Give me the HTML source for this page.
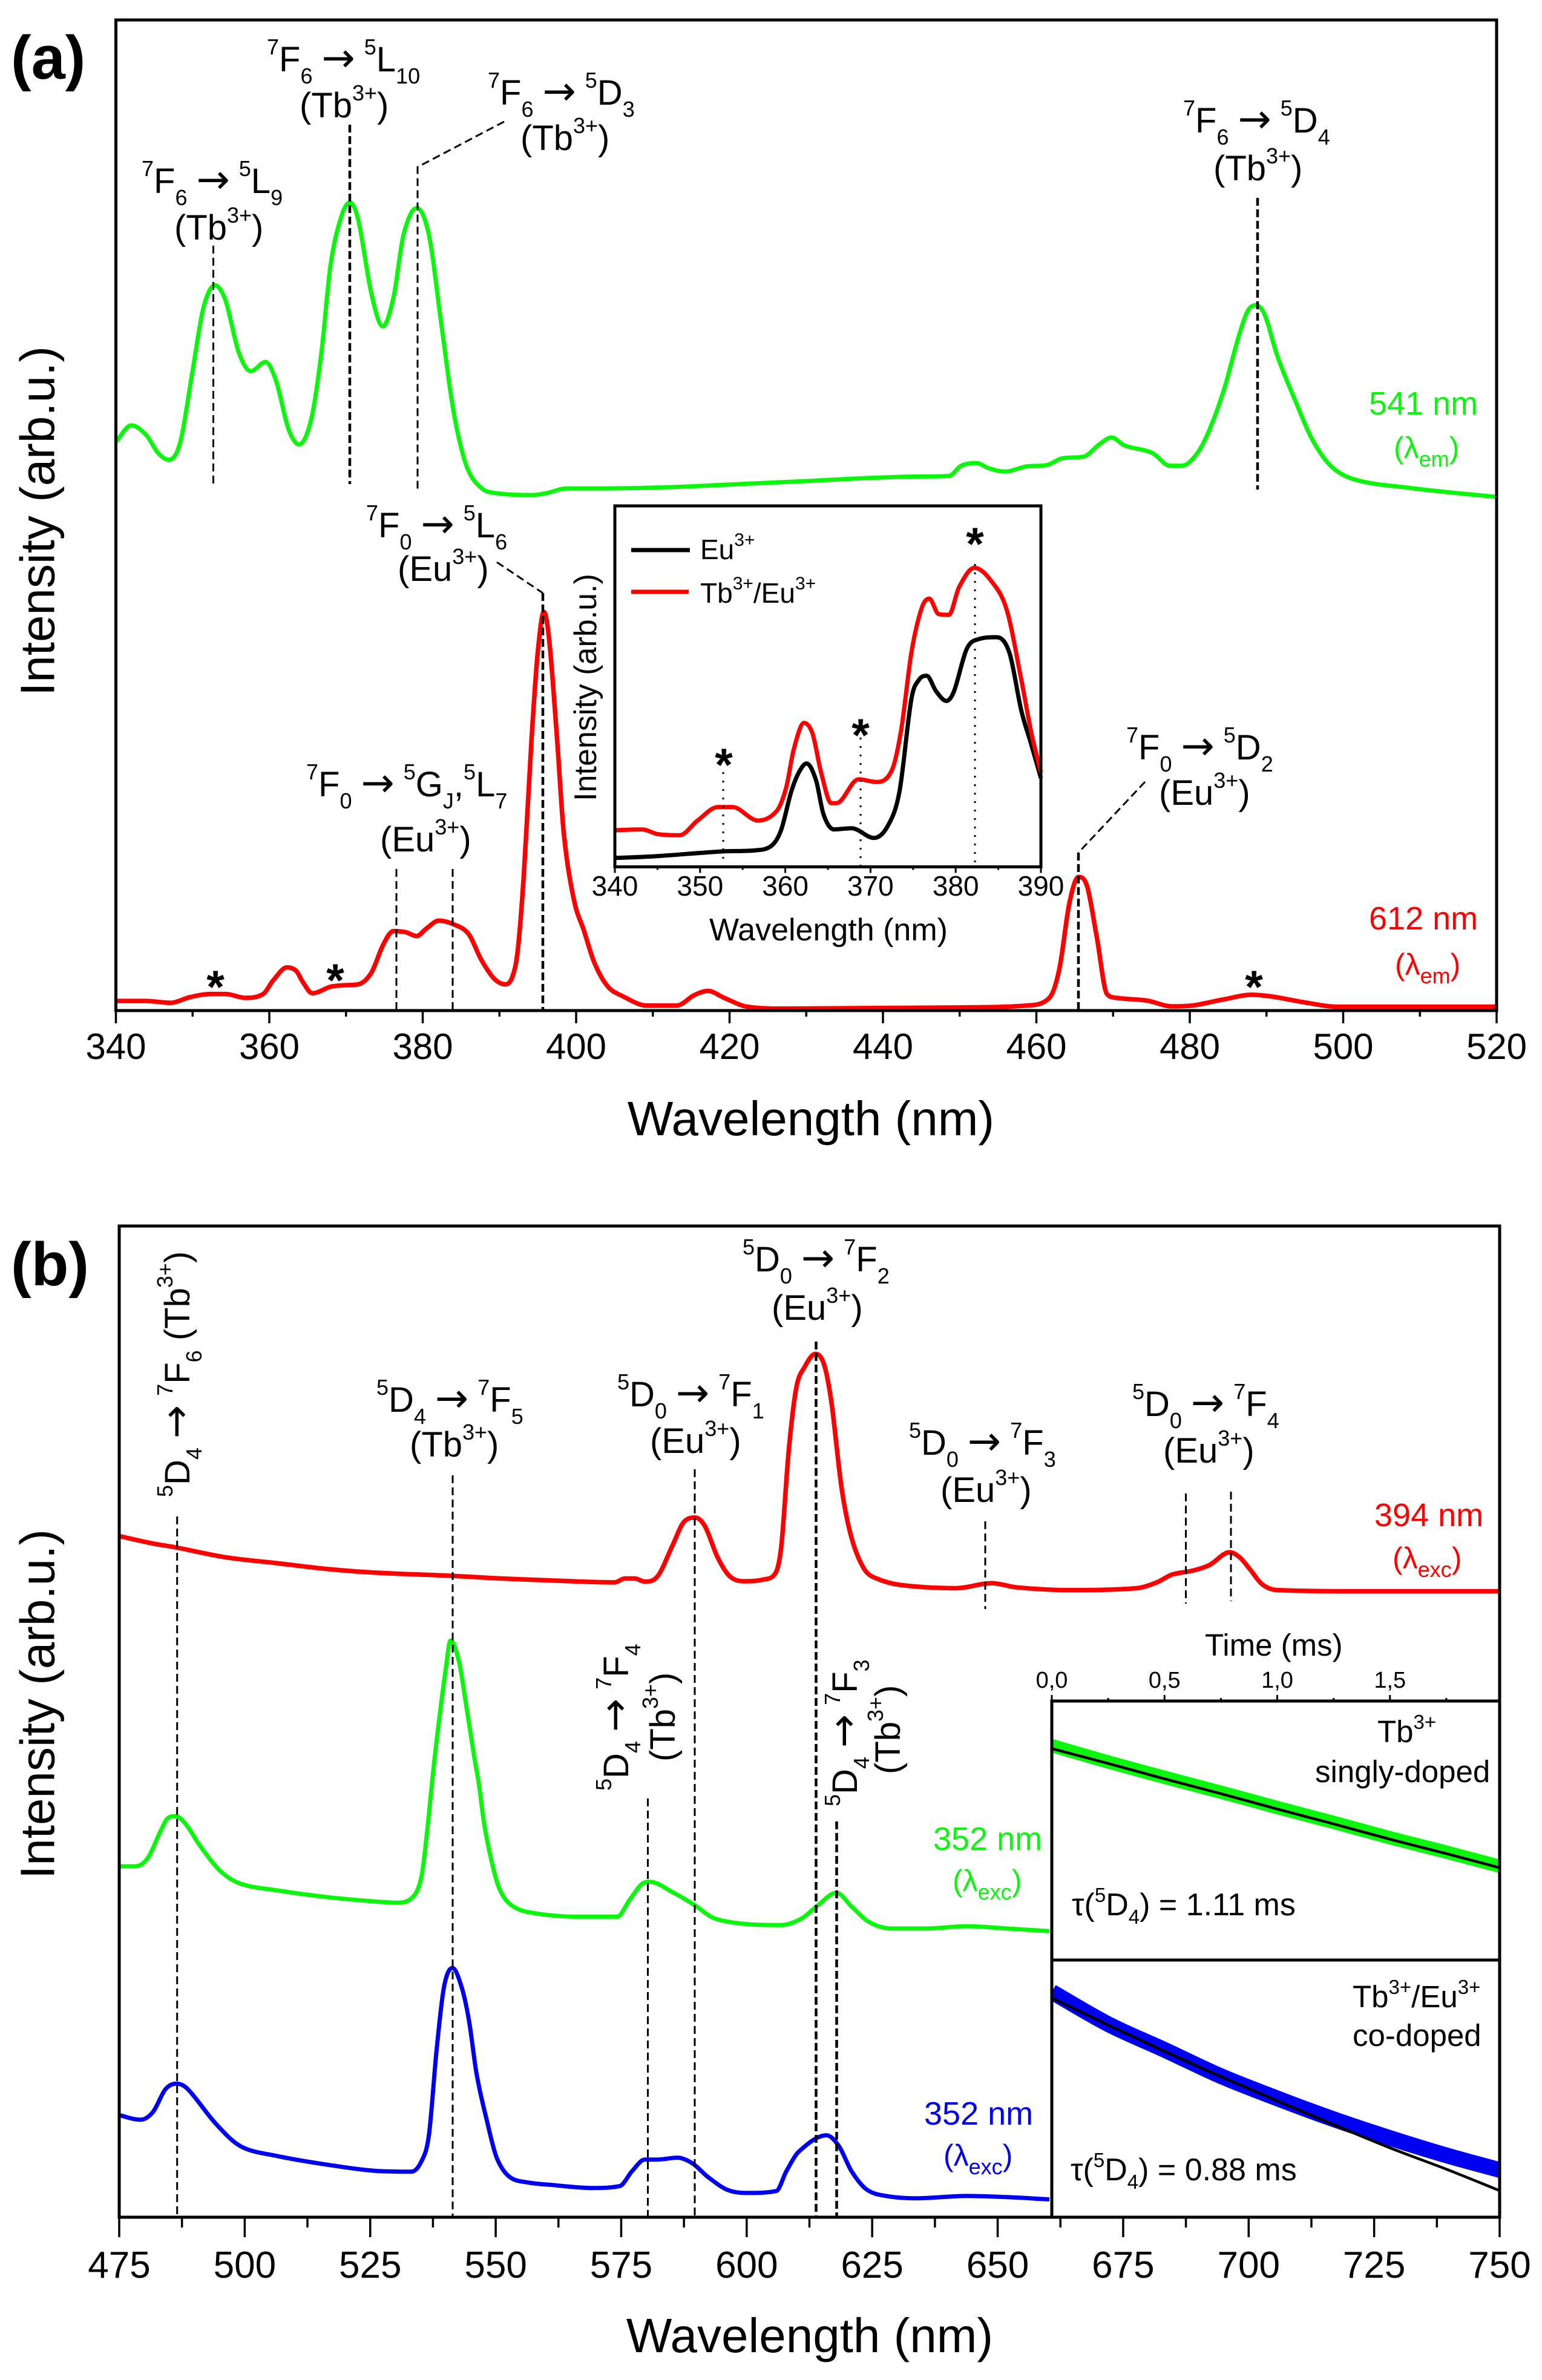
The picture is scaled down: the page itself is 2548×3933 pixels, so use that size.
<!DOCTYPE html>
<html lang="en">
<head>
<meta charset="utf-8">
<title>Excitation and emission spectra</title>
<style>
html,body{margin:0;padding:0;background:#fff;}
svg{display:block;font-family:"Liberation Sans",Arial,sans-serif;}
text{white-space:pre;fill:#000;}
.ann{font-size:58px;}
.s{font-size:36px;}
.a{font-family:"DejaVu Sans","Liberation Sans",sans-serif;font-size:66px;word-spacing:-6px;}
.nm{font-size:54px;}
.lam{font-size:50px;}
.lam .b{font-size:36px;}
.inlab{font-size:51px;}
.tau{font-size:52px;}
.inlab .s,.tau .s{font-size:33px;}
.leg{font-size:46px;}
.leg .s{font-size:30px;}
.star{font-size:76px;font-weight:bold;text-anchor:middle;}
.dash{stroke:#000;stroke-width:3;stroke-dasharray:13 7;fill:none;}
.dash2{stroke:#000;stroke-width:4.5;stroke-dasharray:13 6;fill:none;}
.dot{stroke:#000;stroke-width:3;stroke-dasharray:3 11;fill:none;}
.frame{fill:none;stroke:#000;stroke-width:5;}
.g{fill:#0cf50c;}
.r{fill:#ff0000;}
.bl{fill:#0000f0;}
</style>
</head>
<body>
<svg id="figure" xmlns="http://www.w3.org/2000/svg" width="2548" height="3933" viewBox="0 0 2548 3933">
<rect width="2548" height="3933" fill="#fff"/>
<defs>
<clipPath id="clipDecayTop"><rect x="1738" y="2811" width="740" height="428"/></clipPath>
<clipPath id="clipDecayBottom"><rect x="1738" y="3239" width="740" height="425"/></clipPath>
</defs>

<!-- PANEL A -->
<g id="panelASeries"></g>
<rect class="frame" x="191.5" y="33" width="2281.5" height="1637"/>
<g id="panelATicks"></g>
<text x="18" y="130" font-size="101" font-weight="bold">(a)</text>
<text font-size="80" text-anchor="middle" transform="translate(89.5,861) rotate(-90)">Intensity (arb.u.)</text>
<text font-size="80" text-anchor="middle" x="1340" y="1876">Wavelength (nm)</text>

<g>
<line class="dash" x1="352.5" y1="406" x2="352.5" y2="800"/>
<line class="dash2" x1="578" y1="206" x2="578" y2="800"/>
<polyline class="dash" points="833,201 690,276 690,809"/>
<line class="dash2" x1="2078" y1="327" x2="2078" y2="809"/>
<polyline class="dash" points="821,929 897,980"/>
<line class="dash2" x1="897" y1="980" x2="897" y2="1668"/>
<line class="dash" x1="655" y1="1436" x2="655" y2="1668"/>
<line class="dash" x1="748" y1="1436" x2="748" y2="1668"/>
<polyline class="dash" points="1892,1292 1782,1409"/>
<line class="dash2" x1="1782" y1="1409" x2="1782" y2="1668"/>
</g>

<text class="ann" x="234" y="319"><tspan class="s" dy="-28">7</tspan><tspan dy="28">F</tspan><tspan class="s" dy="20">6</tspan><tspan class="a" dy="-20"> → </tspan><tspan class="s" dy="-28">5</tspan><tspan dy="28">L</tspan><tspan class="s" dy="20">9</tspan></text>
<text class="ann" x="288" y="396">(Tb<tspan class="s" dy="-28">3+</tspan><tspan dy="28">)</tspan></text>
<text class="ann" x="441" y="118"><tspan class="s" dy="-28">7</tspan><tspan dy="28">F</tspan><tspan class="s" dy="20">6</tspan><tspan class="a" dy="-20"> → </tspan><tspan class="s" dy="-28">5</tspan><tspan dy="28">L</tspan><tspan class="s" dy="20">10</tspan></text>
<text class="ann" x="495" y="194">(Tb<tspan class="s" dy="-28">3+</tspan><tspan dy="28">)</tspan></text>
<text class="ann" x="806" y="173"><tspan class="s" dy="-28">7</tspan><tspan dy="28">F</tspan><tspan class="s" dy="20">6</tspan><tspan class="a" dy="-20"> → </tspan><tspan class="s" dy="-28">5</tspan><tspan dy="28">D</tspan><tspan class="s" dy="20">3</tspan></text>
<text class="ann" x="860" y="248">(Tb<tspan class="s" dy="-28">3+</tspan><tspan dy="28">)</tspan></text>
<text class="ann" x="1955" y="219"><tspan class="s" dy="-28">7</tspan><tspan dy="28">F</tspan><tspan class="s" dy="20">6</tspan><tspan class="a" dy="-20"> → </tspan><tspan class="s" dy="-28">5</tspan><tspan dy="28">D</tspan><tspan class="s" dy="20">4</tspan></text>
<text class="ann" x="2005" y="298">(Tb<tspan class="s" dy="-28">3+</tspan><tspan dy="28">)</tspan></text>
<text class="ann" x="605" y="888"><tspan class="s" dy="-28">7</tspan><tspan dy="28">F</tspan><tspan class="s" dy="20">0</tspan><tspan class="a" dy="-20"> → </tspan><tspan class="s" dy="-28">5</tspan><tspan dy="28">L</tspan><tspan class="s" dy="20">6</tspan></text>
<text class="ann" x="657" y="960">(Eu<tspan class="s" dy="-28">3+</tspan><tspan dy="28">)</tspan></text>
<text class="ann" x="506" y="1316"><tspan class="s" dy="-28">7</tspan><tspan dy="28">F</tspan><tspan class="s" dy="20">0</tspan><tspan class="a" dy="-20"> → </tspan><tspan class="s" dy="-28">5</tspan><tspan dy="28">G</tspan><tspan class="s" dy="20">J</tspan><tspan dy="-20">,</tspan><tspan class="s" dy="-28">5</tspan><tspan dy="28">L</tspan><tspan class="s" dy="20">7</tspan></text>
<text class="ann" x="628" y="1407">(Eu<tspan class="s" dy="-28">3+</tspan><tspan dy="28">)</tspan></text>
<text class="ann" x="1861" y="1255"><tspan class="s" dy="-28">7</tspan><tspan dy="28">F</tspan><tspan class="s" dy="20">0</tspan><tspan class="a" dy="-20"> → </tspan><tspan class="s" dy="-28">5</tspan><tspan dy="28">D</tspan><tspan class="s" dy="20">2</tspan></text>
<text class="ann" x="1915" y="1330">(Eu<tspan class="s" dy="-28">3+</tspan><tspan dy="28">)</tspan></text>

<text class="star" x="356" y="1657">*</text>
<text class="star" x="554" y="1646">*</text>
<text class="star" x="2072" y="1657">*</text>

<text class="nm g" x="2262" y="685">541 nm</text>
<text class="lam g" x="2303" y="757">(λ<tspan class="b" dy="14">em</tspan><tspan dy="-14">)</tspan></text>
<text class="nm r" x="2262" y="1536">612 nm</text>
<text class="lam r" x="2305" y="1611">(λ<tspan class="b" dy="14">em</tspan><tspan dy="-14">)</tspan></text>

<!-- INSET A -->
<rect x="1016" y="836" width="704" height="596.5" fill="#fff"/>
<g id="insetASeries"></g>
<rect x="1016" y="836" width="704" height="596.5" fill="none" stroke="#000" stroke-width="5"/>
<g id="insetATicks"></g>
<line class="dot" x1="1195" y1="1276" x2="1195" y2="1431"/>
<line class="dot" x1="1422" y1="1219" x2="1422" y2="1431"/>
<line class="dot" x1="1611" y1="932" x2="1611" y2="1431"/>
<text class="star" x="1196" y="1290">*</text>
<text class="star" x="1422" y="1241">*</text>
<text class="star" x="1611" y="925">*</text>
<text font-size="52" text-anchor="middle" x="1369" y="1554">Wavelength (nm)</text>
<text font-size="52" text-anchor="middle" transform="translate(985,1136) rotate(-90)">Intensity (arb.u.)</text>
<line x1="1043" y1="909" x2="1140" y2="909" stroke="#000" stroke-width="7"/>
<text class="leg" x="1157" y="924">Eu<tspan class="s" dy="-22">3+</tspan></text>
<line x1="1043" y1="978" x2="1138" y2="978" stroke="#f00" stroke-width="7"/>
<text class="leg" x="1157" y="996">Tb<tspan class="s" dy="-22">3+</tspan><tspan dy="22">/Eu</tspan><tspan class="s" dy="-22">3+</tspan></text>

<!-- PANEL B -->
<g id="panelBSeries"></g>
<rect x="1738" y="2811" width="740" height="853" fill="#fff"/>
<g id="decaySeries"></g>
<rect class="frame" x="197" y="2026" width="2281" height="1638"/>
<g id="panelBTicks"></g>
<rect x="1738" y="2811" width="740" height="428" fill="none" stroke="#000" stroke-width="5"/>
<rect x="1738" y="3239" width="740" height="425" fill="none" stroke="#000" stroke-width="5"/>
<g id="decayTicks"></g>
<text x="18" y="2124" font-size="101" font-weight="bold">(b)</text>
<text font-size="80" text-anchor="middle" transform="translate(89.5,2816) rotate(-90)">Intensity (arb.u.)</text>
<text font-size="80" text-anchor="middle" x="1338" y="3887">Wavelength (nm)</text>
<text font-size="51" x="1991" y="2736">Time (ms)</text>

<g>
<line class="dash" x1="292.7" y1="2506" x2="292.7" y2="3662"/>
<line class="dash" x1="748" y1="2438" x2="748" y2="3662"/>
<line class="dash" x1="1148" y1="2428" x2="1148" y2="3662"/>
<line class="dash" x1="1070.5" y1="2972" x2="1070.5" y2="3662"/>
<line class="dash2" x1="1348.5" y1="2217" x2="1348.5" y2="3662"/>
<line class="dash2" x1="1382.5" y1="3010" x2="1382.5" y2="3662"/>
<line class="dash" x1="1628" y1="2514" x2="1628" y2="2659"/>
<line class="dash" x1="1959.5" y1="2468" x2="1959.5" y2="2650"/>
<line class="dash" x1="2034" y1="2465" x2="2034" y2="2646"/>
</g>

<text class="ann" x="1227" y="2101"><tspan class="s" dy="-28">5</tspan><tspan dy="28">D</tspan><tspan class="s" dy="20">0</tspan><tspan class="a" dy="-20"> → </tspan><tspan class="s" dy="-28">7</tspan><tspan dy="28">F</tspan><tspan class="s" dy="20">2</tspan></text>
<text class="ann" x="1275" y="2181">(Eu<tspan class="s" dy="-28">3+</tspan><tspan dy="28">)</tspan></text>
<text class="ann" x="622" y="2333"><tspan class="s" dy="-28">5</tspan><tspan dy="28">D</tspan><tspan class="s" dy="20">4</tspan><tspan class="a" dy="-20"> → </tspan><tspan class="s" dy="-28">7</tspan><tspan dy="28">F</tspan><tspan class="s" dy="20">5</tspan></text>
<text class="ann" x="677" y="2407">(Tb<tspan class="s" dy="-28">3+</tspan><tspan dy="28">)</tspan></text>
<text class="ann" x="1020" y="2324"><tspan class="s" dy="-28">5</tspan><tspan dy="28">D</tspan><tspan class="s" dy="20">0</tspan><tspan class="a" dy="-20"> → </tspan><tspan class="s" dy="-28">7</tspan><tspan dy="28">F</tspan><tspan class="s" dy="20">1</tspan></text>
<text class="ann" x="1074" y="2401">(Eu<tspan class="s" dy="-28">3+</tspan><tspan dy="28">)</tspan></text>
<text class="ann" x="1502" y="2404"><tspan class="s" dy="-28">5</tspan><tspan dy="28">D</tspan><tspan class="s" dy="20">0</tspan><tspan class="a" dy="-20"> → </tspan><tspan class="s" dy="-28">7</tspan><tspan dy="28">F</tspan><tspan class="s" dy="20">3</tspan></text>
<text class="ann" x="1554" y="2482">(Eu<tspan class="s" dy="-28">3+</tspan><tspan dy="28">)</tspan></text>
<text class="ann" x="1871" y="2340"><tspan class="s" dy="-28">5</tspan><tspan dy="28">D</tspan><tspan class="s" dy="20">0</tspan><tspan class="a" dy="-20"> → </tspan><tspan class="s" dy="-28">7</tspan><tspan dy="28">F</tspan><tspan class="s" dy="20">4</tspan></text>
<text class="ann" x="1922" y="2417">(Eu<tspan class="s" dy="-28">3+</tspan><tspan dy="28">)</tspan></text>
<text class="ann" transform="translate(313,2474) rotate(-90)"><tspan class="s" dy="-28">5</tspan><tspan dy="28">D</tspan><tspan class="s" dy="20">4</tspan><tspan class="a" dy="-20"> → </tspan><tspan class="s" dy="-28">7</tspan><tspan dy="28">F</tspan><tspan class="s" dy="20">6</tspan><tspan dy="-20"> (Tb</tspan><tspan class="s" dy="-28">3+</tspan><tspan dy="28">)</tspan></text>
<text class="ann" transform="translate(1038,2959) rotate(-90)"><tspan class="s" dy="-28">5</tspan><tspan dy="28">D</tspan><tspan class="s" dy="20">4</tspan><tspan class="a" dy="-20"> → </tspan><tspan class="s" dy="-28">7</tspan><tspan dy="28">F</tspan><tspan class="s" dy="20">4</tspan></text>
<text class="ann" transform="translate(1115,2911) rotate(-90)">(Tb<tspan class="s" dy="-28">3+</tspan><tspan dy="28">)</tspan></text>
<text class="ann" transform="translate(1416,2985) rotate(-90)"><tspan class="s" dy="-28">5</tspan><tspan dy="28">D</tspan><tspan class="s" dy="20">4</tspan><tspan class="a" dy="-20"> → </tspan><tspan class="s" dy="-28">7</tspan><tspan dy="28">F</tspan><tspan class="s" dy="20">3</tspan></text>
<text class="ann" transform="translate(1487,2932) rotate(-90)">(Tb<tspan class="s" dy="-28">3+</tspan><tspan dy="28">)</tspan></text>

<text class="nm r" x="2271" y="2522">394 nm</text>
<text class="lam r" x="2301" y="2592">(λ<tspan class="b" dy="14">exc</tspan><tspan dy="-14">)</tspan></text>
<text class="nm g" x="1542" y="3057">352 nm</text>
<text class="lam g" x="1574" y="3125">(λ<tspan class="b" dy="14">exc</tspan><tspan dy="-14">)</tspan></text>
<text class="nm bl" x="1527" y="3511">352 nm</text>
<text class="lam bl" x="1559" y="3579">(λ<tspan class="b" dy="14">exc</tspan><tspan dy="-14">)</tspan></text>

<text class="inlab" x="2276" y="2879">Tb<tspan class="s" dy="-22">3+</tspan></text>
<text class="inlab" x="2173" y="2945">singly-doped</text>
<text class="tau" x="1771" y="3165">τ(<tspan class="s" dy="-22">5</tspan><tspan dy="22">D</tspan><tspan class="s" dy="14">4</tspan><tspan dy="-14">) = 1.11 ms</tspan></text>
<text class="inlab" x="2235" y="3317">Tb<tspan class="s" dy="-22">3+</tspan><tspan dy="22">/Eu</tspan><tspan class="s" dy="-22">3+</tspan></text>
<text class="inlab" x="2235" y="3381">co-doped</text>
<text class="tau" x="1769" y="3603">τ(<tspan class="s" dy="-22">5</tspan><tspan dy="22">D</tspan><tspan class="s" dy="14">4</tspan><tspan dy="-14">) = 0.88 ms</tspan></text>
</svg>

<script>
// Panel (a) axis
var aTickLabels = [340, 360, 380, 400, 420, 440, 460, 480, 500, 520];
// Panel (a) excitation spectra (em 541 nm)
var aGreenWl = [340,342,343.9,345.5,346.9,348.4,350,351.4,352.9,354.3,356,357.6,359.5,360.9,362.5,363.9,365.5,366.8,368,369.4,370.5,371.6,373.3,374.8,376.2,377.5,379.2,380.8,382.4,384,385.7,387.6,389.6,394.2,396.1,398.8,403.3,409.9,416.4,423.4,430,436.5,443,448.6,450.2,452.2,453.8,455.9,458.7,461.4,463.3,466.2,468.2,469.8,471.5,475.1,477.4,479,481,482.6,484.5,486.2,487.5,488.6,489.8,491.4,493.7,496,498.6,501.9,508.4,514.9,520];
var aGreenVal = [1089,1134,1109,1059,1040,1089,1284,1454,1516,1474,1334,1282,1307,1254,1124,1082,1154,1334,1574,1704,1742,1694,1494,1404,1484,1654,1727,1654,1414,1174,1024,964,949,944,949,962,962,964,969,976,982,989,994,996,1024,1031,1017,1008,1022,1026,1044,1049,1082,1101,1079,1059,1024,1024,1059,1124,1234,1364,1444,1462,1434,1324,1204,1094,1019,984,964,949,939];
// Panel (a) excitation spectrum (em 612 nm)
var aRedWl = [340,343.9,347.1,349.7,352.4,354.3,356.9,359.2,360.5,362.3,363.5,364.4,365.6,368,369.3,371.6,373.3,374.9,376.2,377.8,379.2,380.5,382.1,384.1,386,387.6,389.3,390.8,391.7,392.4,393.2,394.2,395,395.8,396.5,397.5,398.4,399.7,401,402.4,404.1,406,409.2,413.1,415.4,417.2,419.3,422.3,427.4,449.6,458.7,461.7,463,464.3,465.5,466.6,467.9,469.2,470.5,474.4,477.7,480.3,484.2,488.1,490.8,495.3,499.2,520];
var aRedVal = [25,25,20,35,43,43,33,43,78,112,103,73,45,62,65,68,98,173,206,203,193,213,233,223,198,133,83,68,88,158,358,708,928,1033,958,708,458,288,208,123,63,38,13,13,40,51,33,10,5,8,13,33,108,278,346,323,188,43,33,26,11,13,28,41,36,20,10,10];
// Inset (a)
var inTickLabels = [340, 350, 360, 370, 380, 390];
var inRedWl = [340,343.2,345,347.6,349.7,352.1,353.8,356.8,359,360.1,361,362.2,363.2,364.2,365.4,366,368.6,370.7,372.5,373.6,374.8,376,376.9,378,379.2,380.4,382.2,384.2,386,387.7,388.9,390];
var inRedVal = [95,97,85,82,120,155,155,120,145,205,305,373,345,245,165,165,227,220,250,355,555,670,695,655,653,725,775,740,665,485,345,245];
var inBlackWl = [340,344.4,352.6,356.6,358.4,359.5,360.7,361.6,362.5,363.6,364.5,365.7,367.8,370.4,372,373.4,374.8,375.7,376.6,377.7,378.9,379.8,381.3,382.7,384.8,386.3,387.7,388.9,390];
var inBlackVal = [23,27,40,43,55,95,195,245,268,225,135,97,100,75,105,195,435,485,495,455,430,455,565,590,595,555,405,315,230];
// Panel (b) axis
var bTickLabels = [475, 500, 525, 550, 575, 600, 625, 650, 675, 700, 725, 750];
// Panel (b) emission spectra
var bRedWl = [475,481.2,486.5,496.2,506.2,516.2,526.2,541.2,551.2,561.2,573.7,575.7,577.7,579.7,582.2,585.2,587.4,589.7,591.7,594.2,596.7,599.7,603.2,605.7,606.9,608.4,609.9,611.4,613.7,615.4,616.9,618.9,620.9,623.4,625.9,630.8,641.8,648.8,653.8,663.8,677.7,681.7,684.7,688.7,692.2,696.2,698.2,700.2,702.7,705.7,721.7,750];
var bRedVal = [1765,1747,1735,1710,1695,1680,1670,1662,1655,1650,1645,1655,1655,1647,1660,1740,1800,1813,1790,1710,1660,1648,1652,1668,1740,1990,2150,2200,2237,2210,2110,1890,1760,1680,1655,1638,1630,1643,1632,1625,1630,1645,1665,1675,1690,1723,1710,1680,1640,1625,1622,1622];
var bGreenWl = [475,478.2,480.7,483.2,484.7,486.2,488.2,491.2,495.2,499.2,506.2,516.2,526.2,530.7,533.7,535.2,536.2,537.2,538,539,540,541,542.7,544,545.7,546.7,547.7,549.2,550.7,552.7,556.2,566.2,574.2,576.7,579.2,580.7,585.2,589.7,593.2,597.2,601.9,606.9,610.9,613.9,617.9,620.9,624.4,628.8,635.8,643.8,651.8,660.3];
var bGreenVal = [925,925,947,1017,1052,1057,1037,977,912,879,862,844,832,829,847,897,1000,1130,1230,1340,1440,1520,1464,1360,1215,1137,1037,937,867,827,805,792,792,837,879,884,857,822,790,777,771,770,787,819,855,819,778,761,761,767,761,754];
var bBlueWl = [475,479.2,481.7,484.2,486.4,488.7,494.2,499.2,506.2,516.2,526.2,533.2,535.2,536.7,538.2,539.7,541.4,543.2,544.7,546.2,548.2,550.2,552.7,556.2,561.2,569.2,574.7,577.2,579.7,582.2,586.2,589.2,592.2,596.2,600.2,605.9,607.9,610.4,615.9,618.4,620.9,623.9,627.8,633.8,643.8,651.8,660.3];
var bBlueVal = [269,257,277,337,352,337,247,187,162,139,122,120,147,217,437,607,657,607,517,377,257,157,107,92,85,77,82,122,152,152,157,142,107,72,64,69,121,173,216,187,121,73,56,50,56,53,47];
// Decay insets
var timeTickLabels = ['0,0', '0,5', '1,0', '1,5'];
var decayTimes = [0, 0.25, 0.5, 0.75, 1, 1.25, 1.5, 1.75, 1.99];
var decayGreen = [433, 400, 369, 339, 308, 278, 247, 218, 189];
var decayGreenFit = [427, 397, 366, 336, 305, 275, 244, 215, 186];
var decayBlue = [455, 390, 338, 285, 240, 198, 160, 125, 95];
var decayBlueFit = [443, 388, 335, 284, 235, 187, 140, 97, 53];

var SVGNS = 'http://www.w3.org/2000/svg';

// Axis functions
function xA(w) { return 191.5 + (w - 340) * 2281.5 / 180; }
function yA(v, gain, offset) { return 1670 - offset - v * gain; }
function xIn(w) { return 1016 + (w - 340) * 704 / 50; }
function yIn(v) { return 1432.5 - v / 1.568; }
function xB(w) { return 197 + (w - 475) * 2281 / 275; }
function yB(v, gain) { return 3664 - v * gain; }
function xT(t) { return 1738 + t * 372.5; }
function yDecayTop(v) { return 3239 - v / 1.222; }
function yDecayBottom(v) { return 3664 - v / 1.222; }

// Cubic curve through the points, with tangents that respect uneven x spacing
function smoothPath(xs, ys) {
  var n = xs.length, m = [];
  for (var k = 0; k < n; k++) {
    var a = Math.max(k - 1, 0), b = Math.min(k + 1, n - 1);
    var slope = (ys[b] - ys[a]) / (xs[b] - xs[a]);
    if (k > 0 && k < n - 1) {
      var s0 = (ys[k] - ys[k - 1]) / (xs[k] - xs[k - 1]);
      var s1 = (ys[k + 1] - ys[k]) / (xs[k + 1] - xs[k]);
      if (s0 * s1 <= 0) slope = 0.0;
      else {
        var lim = 3 * Math.min(Math.abs(s0), Math.abs(s1));
        if (Math.abs(slope) > lim) slope = (slope > 0 ? 1 : -1) * lim;
      }
    }
    m.push(slope);
  }
  var d = 'M' + xs[0].toFixed(1) + ' ' + ys[0].toFixed(1);
  for (var i = 0; i < n - 1; i++) {
    var h = xs[i + 1] - xs[i];
    d += 'C' + (xs[i] + h / 3).toFixed(1) + ' ' + (ys[i] + m[i] * h / 3).toFixed(1) + ' ' +
      (xs[i + 1] - h / 3).toFixed(1) + ' ' + (ys[i + 1] - m[i + 1] * h / 3).toFixed(1) + ' ' +
      xs[i + 1].toFixed(1) + ' ' + ys[i + 1].toFixed(1);
  }
  return d;
}

function drawSeries(groupId, name, xVals, yVals, xFn, yFn, color, width, clip) {
  var el = document.createElementNS(SVGNS, 'path');
  
  
  el.setAttribute('d', smoothPath(xVals.map(xFn), yVals.map(yFn)));
  el.setAttribute('fill', 'none');
  el.setAttribute('stroke', color);
  el.setAttribute('stroke-width', width);
  el.setAttribute('stroke-linejoin', 'round');
  if (clip) el.setAttribute('clip-path', 'url(#' + clip + ')');
  document.getElementById(groupId).appendChild(el);
}

function drawTick(groupId, x1, y1, x2, y2, width) {
  var el = document.createElementNS(SVGNS, 'line');
  
  
  el.setAttribute('x1', x1);
  el.setAttribute('y1', y1);
  el.setAttribute('x2', x2);
  el.setAttribute('y2', y2);
  el.setAttribute('stroke', '#000');
  el.setAttribute('stroke-width', width);
  document.getElementById(groupId).appendChild(el);
}

function drawTickLabel(groupId, x, y, size, label) {
  var el = document.createElementNS(SVGNS, 'text');
  
  
  el.setAttribute('x', x);
  el.setAttribute('y', y);
  el.setAttribute('font-size', size);
  el.setAttribute('text-anchor', 'middle');
  el.textContent = label;
  document.getElementById(groupId).appendChild(el);
}

function drawAxis(groupId, labels, xFn, y0, dir, majorLen, minorLen, width, labelY, labelSize) {
  labels.forEach(function (lab, i) {
    var v = parseFloat(String(lab).replace(',', '.'));
    drawTick(groupId, xFn(v), y0, xFn(v), y0 + dir * majorLen, width);
    drawTickLabel(groupId, xFn(v), labelY, labelSize, lab);
    var step = labels.length > 1 ? (parseFloat(String(labels[1]).replace(',', '.')) - parseFloat(String(labels[0]).replace(',', '.'))) : 0;
    var mv = v + step / 2;
    if (i < labels.length - 1 || groupId === 'decayTicks') {
      drawTick(groupId, xFn(mv), y0, xFn(mv), y0 + dir * minorLen, width);
    }
  });
}

// Panel (a) series
function yAGreen(v) { return yA(v, 1 / 1.6505, 280); }
function yARed(v) { return yA(v, 1 / 1.568, 0); }
drawSeries('panelASeries', 'excitation-541-nm-curve', aGreenWl, aGreenVal, xA, yAGreen, '#0cf50c', 7);
drawSeries('panelASeries', 'excitation-612-nm-curve', aRedWl, aRedVal, xA, yARed, '#ff0000', 7.5);
drawAxis('panelATicks', aTickLabels, xA, 1670, 1, 21, 10, 3.5, 1750, 60);

// Inset (a) series
drawSeries('insetASeries', 'inset-eu-curve', inBlackWl, inBlackVal, xIn, yIn, '#000', 7);
drawSeries('insetASeries', 'inset-tb-eu-curve', inRedWl, inRedVal, xIn, yIn, '#ff0000', 7);
drawAxis('insetATicks', inTickLabels, xIn, 1432.5, 1, 10, 5, 3, 1480, 46);

// Panel (b) series
function yBRed(v) { return yB(v, 1 / 1.568); }
function yBLow(v) { return yB(v, 1 / 1.595); }
drawSeries('panelBSeries', 'emission-394-nm-curve', bRedWl, bRedVal, xB, yBRed, '#ff0000', 7.5);
drawSeries('panelBSeries', 'emission-352-nm-green-curve', bGreenWl, bGreenVal, xB, yBLow, '#0cf50c', 7);
drawSeries('panelBSeries', 'emission-352-nm-blue-curve', bBlueWl, bBlueVal, xB, yBLow, '#0000f0', 7);
drawAxis('panelBTicks', bTickLabels, xB, 3664, 1, 33, 17, 3.5, 3764, 62);

// Decay insets
drawSeries('decaySeries', 'decay-singly-doped-curve', decayTimes, decayGreen, xT, yDecayTop, '#0cf50c', 22, 'clipDecayTop');
drawSeries('decaySeries', 'decay-singly-doped-fit', decayTimes, decayGreenFit, xT, yDecayTop, '#000', 4.5, 'clipDecayTop');
drawSeries('decaySeries', 'decay-co-doped-curve', decayTimes, decayBlue, xT, yDecayBottom, '#0000f0', 26, 'clipDecayBottom');
drawSeries('decaySeries', 'decay-co-doped-fit', decayTimes, decayBlueFit, xT, yDecayBottom, '#000', 4.5, 'clipDecayBottom');
drawAxis('decayTicks', timeTickLabels, xT, 2811, -1, 10, 5, 3, 2789, 38);
</script>
</body>
</html>
